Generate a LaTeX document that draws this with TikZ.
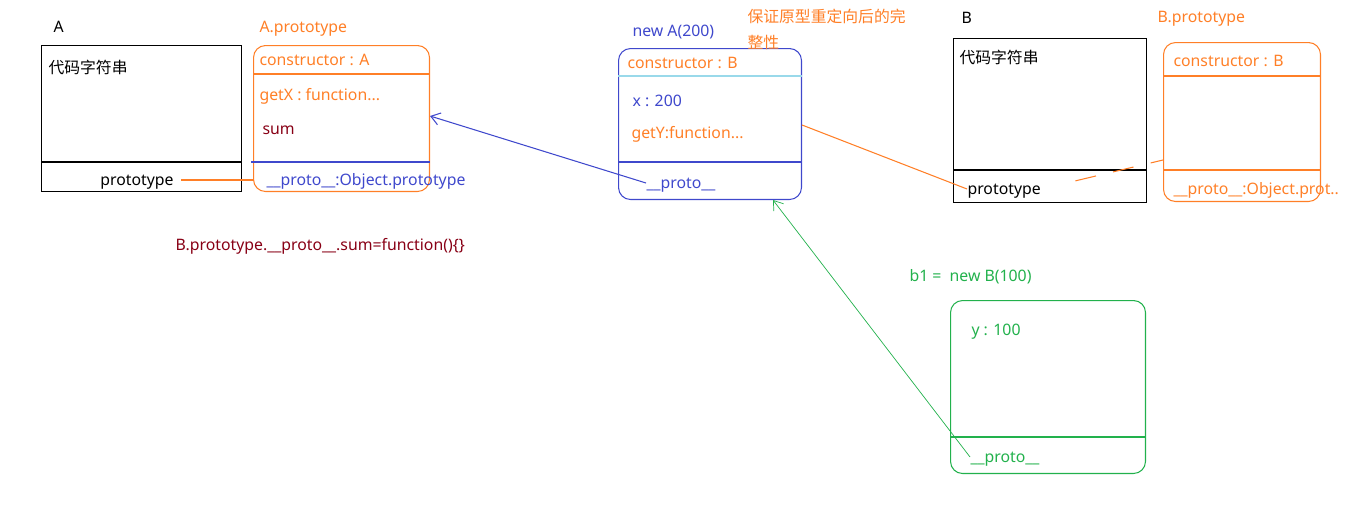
\documentclass[tikz,border=0pt]{standalone}
\usepackage{fontspec}
\setmainfont{Noto Sans}
\newfontfamily\cjk{Noto Sans CJK SC}
\usetikzlibrary{arrows.meta}
\definecolor{porange}{HTML}{FF7F27}
\definecolor{pblue}{HTML}{3F48CC}
\definecolor{pgreen}{HTML}{22B14C}
\definecolor{pred}{HTML}{880015}
\definecolor{pcyan}{HTML}{99D9EA}

\begin{document}
\begin{tikzpicture}[x=0.02cm, y=-0.02cm, line width=0.6pt,
    every node/.style={font=\fontsize{9}{10}\selectfont, inner sep=0pt,
                       text height=1.55ex, text depth=0.4ex},
    txt/.style={anchor=west},
    box/.style={draw, anchor=north west},
    rbox/.style={draw, anchor=north west, rounded corners=0.24cm},
    arr/.style={-{Straight Barb[length=5pt, width=7pt]}}]
    \useasboundingbox (0,0) rectangle (1372,521);

    % constructor A
    \node[txt] (labA) at (53,27) {A};
    \node[box, minimum width=4cm, minimum height=2.92cm] (clsA) at (41,45) {};
    \draw (clsA.west |- 0,162) -- (clsA.east |- 0,162);
    \node[txt] (codeA) at (48,68) {\cjk 代码字符串};
    \node (protoA) at (137,180) {prototype};

    % A.prototype
    \node[txt, text=porange] (labAp) at (259,27) {A.prototype};
    \node[rbox, draw=porange, minimum width=3.52cm, minimum height=2.92cm] (protA) at (253,45) {};
    \draw[porange] (protA.west |- 0,74) -- (protA.east |- 0,74);
    \draw[pblue] (251,162) -- (protA.east |- 0,162);
    \node[txt, text=porange] (consA) at (259,60) {constructor : A};
    \node[txt, text=porange] (getX) at (259,95) {getX : function...};
    \node[txt, text=pred] (sumA) at (262,129) {sum};
    \node[txt, text=pblue] (objA) at (266,180) {\_\_proto\_\_:Object.prototype};

    \node[txt, text=pred] (note) at (175,245) {B.prototype.\_\_proto\_\_.sum=function()\{\}};

    % new A(200)
    \node[txt, text=pblue] (labNA) at (632,31) {new A(200)};
    \node[rbox, draw=pblue, minimum width=3.66cm, minimum height=3.02cm] (newA) at (618,48) {};
    \draw[pcyan] (newA.west |- 0,76) -- (newA.east |- 0,76);
    \draw[pblue] (newA.west |- 0,162) -- (newA.east |- 0,162);
    \node[txt, text=porange] (consNA) at (627,63) {constructor : B};
    \node[txt, text=pblue] (xNA) at (632,101) {x : 200};
    \node[txt, text=porange] (getY) at (631,133) {getY:function...};
    \node[txt, text=pblue] (nAproto) at (646,183) {\_\_proto\_\_};
    \node[anchor=north west, text=porange, align=left, font=\cjk\fontsize{9}{14.7}\selectfont]
        (remark) at (747,33) {保证原型重定向后的完\\整性};

    % constructor B
    \node[txt] (labB) at (961,18) {B};
    \node[box, minimum width=3.86cm, minimum height=3.28cm] (clsB) at (953,38) {};
    \draw (clsB.west |- 0,170) -- (clsB.east |- 0,170);
    \node[txt] (codeB) at (959,58) {\cjk 代码字符串};
    \node[txt] (protoB) at (967,189) {prototype};

    % B.prototype
    \node[txt, text=porange] (labBp) at (1157,17) {B.prototype};
    \node[rbox, draw=porange, minimum width=3.14cm, minimum height=3.18cm] (protB) at (1163,42) {};
    \draw[porange] (protB.west |- 0,76) -- (protB.east |- 0,76);
    \draw[porange] (protB.west |- 0,170) -- (protB.east |- 0,170);
    \node[txt, text=porange] (consB) at (1173,61) {constructor : B};
    \node[txt, text=porange] (objB) at (1173,189) {\_\_proto\_\_:Object.prot..};

    % b1 = new B(100)
    \node[txt, text=pgreen] (labB1) at (909,276) {b1 =\ \ new B(100)};
    \node[rbox, draw=pgreen, minimum width=3.9cm, minimum height=3.46cm] (b1) at (950,300) {};
    \draw[pgreen] (b1.west |- 0,437) -- (b1.east |- 0,437);
    \node[txt, text=pgreen] (yB1) at (971,330) {y : 100};
    \node[txt, text=pgreen] (b1proto) at (970,457) {\_\_proto\_\_};

    % links
    \draw[porange, shorten <=4pt] (protoA.east) -- (protA.west |- protoA.east);
    \draw[pblue, arr] (nAproto.west) -- (protA.east |- 0,116);
    \draw[porange] (protoB.west) -- (newA.east |- 0,125);
    \draw[porange, dash pattern=on 12pt off 10pt, shorten <=20pt] (protoB.east) -- (protB.west |- 0,160);
    \draw[pgreen, line width=0.4pt, arr] (b1proto.west) -- (773,0 |- newA.south);
\end{tikzpicture}
\end{document}
